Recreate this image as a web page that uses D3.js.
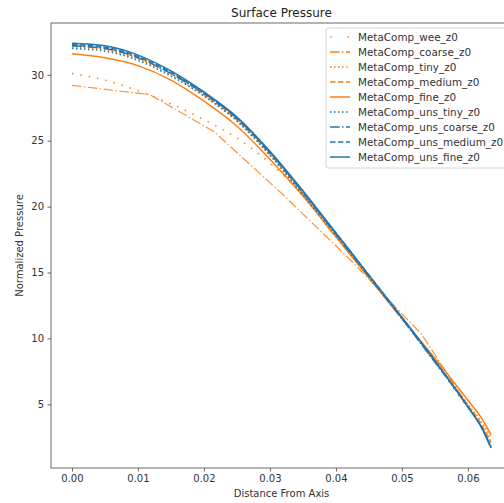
<!DOCTYPE html>
<html>
<head>
<meta charset="utf-8">
<script src="https://cdn.jsdelivr.net/npm/d3@7"></script>
<style>
  body { margin: 0; background: #fff; }
  svg { display: block; font-family: "DejaVu Sans", sans-serif; }
</style>
</head>
<body>
<svg id="chart"></svg>
<script>
// ---- data ----
const X_FINE = [0, 0.005, 0.01, 0.015, 0.02, 0.025, 0.03, 0.035, 0.04, 0.045, 0.05, 0.055, 0.06, 0.062, 0.0635];
const X_COARSE = [0, 0.0118, 0.0215, 0.032, 0.0425, 0.053, 0.0632];

const WEE        = [30.1, 29.6, 28.8, 27.8, 26.6, 25.2, 23.3, 20.9, 17.9, 14.7, 11.5, 8.2, 4.7, 3.4, 2.0];
const COARSE     = [29.2, 28.5, 25.7, 20.9, 15.8, 10.3, 2.4];
const TINY       = [32.1, 31.9, 31.2, 30.0, 28.4, 26.5, 23.9, 20.9, 17.8, 14.6, 11.5, 8.3, 5.0, 3.7, 2.5];
const MEDIUM     = [32.2, 32.0, 31.3, 30.1, 28.5, 26.6, 24.0, 21.0, 17.9, 14.7, 11.5, 8.3, 4.9, 3.5, 2.1];
const FINE       = [31.6, 31.3, 30.7, 29.6, 28.0, 26.1, 23.6, 20.8, 17.7, 14.6, 11.5, 8.5, 5.3, 4.0, 2.7];
const UNS_TINY   = [32.0, 31.8, 31.1, 29.9, 28.4, 26.5, 23.9, 20.9, 17.8, 14.7, 11.5, 8.2, 4.8, 3.3, 1.8];
const UNS_COARSE = [32.2, 32.0, 31.3, 30.1, 28.6, 26.7, 24.1, 21.1, 17.9, 14.7, 11.5, 8.2, 4.8, 3.3, 1.7];
const UNS_MEDIUM = [32.3, 32.1, 31.4, 30.2, 28.6, 26.7, 24.1, 21.1, 18.0, 14.8, 11.6, 8.3, 4.8, 3.3, 1.7];
const UNS_FINE   = [32.4, 32.2, 31.5, 30.3, 28.7, 26.8, 24.2, 21.2, 18.0, 14.8, 11.6, 8.3, 4.8, 3.3, 1.7];

const X_TICKS = [0, 0.01, 0.02, 0.03, 0.04, 0.05, 0.06];
const Y_TICKS = [5, 10, 15, 20, 25, 30];

const ORANGE = '#ff7f0e', BLUE = '#1f77b4';

const SERIES = [
    {name: 'MetaComp_wee_z0', xs: X_FINE, ys: WEE, color: ORANGE, dash: '1.5,7', legendDash: '1.5,16', curve: true},
    {name: 'MetaComp_coarse_z0', xs: X_COARSE, ys: COARSE, color: ORANGE, dash: '9.6,2.4,1.5,2.4', curve: false},
    {name: 'MetaComp_tiny_z0', xs: X_FINE, ys: TINY, color: ORANGE, dash: '1.5,2.5', curve: true},
    {name: 'MetaComp_medium_z0', xs: X_FINE, ys: MEDIUM, color: ORANGE, dash: '5.5,2.4', curve: true},
    {name: 'MetaComp_fine_z0', xs: X_FINE, ys: FINE, color: ORANGE, dash: null, curve: true},
    {name: 'MetaComp_uns_tiny_z0', xs: X_FINE, ys: UNS_TINY, color: BLUE, dash: '1.5,2.5', curve: true},
    {name: 'MetaComp_uns_coarse_z0', xs: X_FINE, ys: UNS_COARSE, color: BLUE, dash: '9.6,2.4,1.5,2.4', curve: true},
    {name: 'MetaComp_uns_medium_z0', xs: X_FINE, ys: UNS_MEDIUM, color: BLUE, dash: '5.5,2.4', curve: true},
    {name: 'MetaComp_uns_fine_z0', xs: X_FINE, ys: UNS_FINE, color: BLUE, dash: null, curve: true},
];

// ---- layout ----
const WIDTH = 504, HEIGHT = 503;
const AX = {left: 51, right: 512, top: 23, bottom: 468};

const svg = d3.select('#chart').attr('width', WIDTH).attr('height', HEIGHT);

// autoscale with 5% margins like matplotlib
const allX = SERIES.flatMap(s => s.xs);
const allY = SERIES.flatMap(s => s.ys);
const [x0, x1] = d3.extent(allX);
const [y0, y1] = d3.extent(allY);
const mx = (x1 - x0) * 0.05, my = (y1 - y0) * 0.05;

const x = d3.scaleLinear().domain([x0 - mx, x1 + mx]).range([AX.left, AX.right]);
const y = d3.scaleLinear().domain([y0 - my, y1 + my]).range([AX.bottom, AX.top]);

// ---- lines ----
const plot = svg.append('g');
SERIES.forEach(s => {
    const pts = s.xs.map((v, i) => [v, s.ys[i]]);
    const line = d3.line()
        .x(d => x(d[0]))
        .y(d => y(d[1]))
        .curve(s.curve ? d3.curveMonotoneX : d3.curveLinear);
    plot.append('path')
        .attr('d', line(pts))
        .attr('fill', 'none')
        .attr('stroke', s.color)
        .attr('stroke-width', s.name === 'MetaComp_coarse_z0' ? 1.2 : 1.5)
        .attr('stroke-dasharray', s.dash)
        .attr('opacity', s.name === 'MetaComp_coarse_z0' ? 0.85 : 1);
});

// ---- axes ----
const xAxis = svg.append('g')
    .attr('transform', `translate(0,${AX.bottom})`)
    .call(d3.axisBottom(x).tickValues(X_TICKS).tickFormat(d3.format('.2f')).tickSize(3.5).tickPadding(3.5).tickSizeOuter(0));
const yAxis = svg.append('g')
    .attr('transform', `translate(${AX.left},0)`)
    .call(d3.axisLeft(y).tickValues(Y_TICKS).tickSize(3.5).tickPadding(3.5).tickSizeOuter(0));

[xAxis, yAxis].forEach(a => {
    a.select('.domain').remove();
    a.selectAll('line').attr('stroke', '#444').attr('stroke-width', 0.8);
    a.selectAll('text').attr('fill', '#333').style('font-size', '10px').style('font-family', '"DejaVu Sans", sans-serif');
});

// spines
svg.append('rect')
    .attr('x', AX.left).attr('y', AX.top)
    .attr('width', AX.right - AX.left).attr('height', AX.bottom - AX.top)
    .attr('fill', 'none').attr('stroke', '#444').attr('stroke-width', 0.8);

// labels
svg.append('text')
    .attr('x', (AX.left + AX.right) / 2).attr('y', 17)
    .attr('text-anchor', 'middle').attr('fill', '#222')
    .style('font-size', '12px')
    .text('Surface Pressure');
svg.append('text')
    .attr('x', (AX.left + AX.right) / 2).attr('y', 497)
    .attr('text-anchor', 'middle').attr('fill', '#333')
    .style('font-size', '10px')
    .text('Distance From Axis');
svg.append('text')
    .attr('transform', `translate(23,${(AX.top + AX.bottom) / 2}) rotate(-90)`)
    .attr('text-anchor', 'middle').attr('fill', '#333')
    .style('font-size', '10px')
    .text('Normalized Pressure');

// ---- legend ----
const LEG = {x: 326, y: 28, w: 181, rowH: 15};
const legend = svg.append('g');
legend.append('rect')
    .attr('x', LEG.x).attr('y', LEG.y)
    .attr('width', LEG.w).attr('height', SERIES.length * LEG.rowH + 5)
    .attr('rx', 2)
    .attr('fill', 'rgba(255,255,255,0.8)')
    .attr('stroke', '#ccc').attr('stroke-width', 0.8);

const rows = legend.selectAll('.row').data(SERIES).enter()
    .append('g')
    .attr('transform', (d, i) => `translate(${LEG.x + 4},${LEG.y + 9 + i * LEG.rowH})`);
rows.append('line')
    .attr('x1', 0).attr('x2', 20).attr('y1', 0).attr('y2', 0)
    .attr('stroke', d => d.color).attr('stroke-width', 1.5)
    .attr('stroke-dasharray', d => d.legendDash || d.dash);
rows.append('text')
    .attr('x', 28).attr('y', 3.5)
    .attr('fill', '#333')
    .style('font-size', '10.4px')
    .text(d => d.name);
</script>
</body>
</html>
